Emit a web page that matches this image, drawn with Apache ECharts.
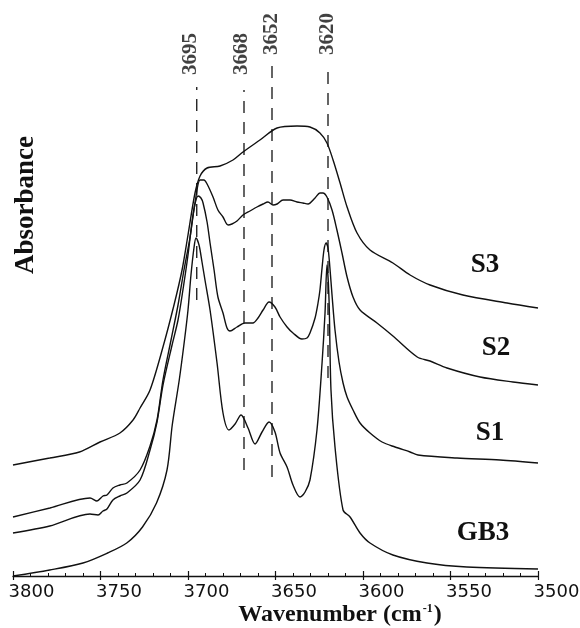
<!DOCTYPE html>
<html><head><meta charset="utf-8">
<script src="https://cdn.jsdelivr.net/npm/echarts@6/dist/echarts.min.js"></script>
<style>html,body{margin:0;padding:0;background:#fff}#c{width:580px;height:628px}</style>
</head><body><div id="c"></div>
<script>
// x axis (wavenumber, cm-1)
const xTicks = [3800, 3750, 3700, 3650, 3600, 3550, 3500];

// S3
const s3Wn = [3800,3779,3762,3750.3,3738.9,3731.4,3727.4,3721.7,3714.3,3708,3703.4,3700,3696,3693.1,3689.1,3681.7,3674.3,3668.6,3658.9,3649.1,3637.7,3630.3,3624.6,3620.6,3617.1,3613.1,3609.1,3603.4,3596,3582.9,3573.1,3561.7,3542.9,3517.7,3500];
const s3Abs = [1.11,1.18,1.24,1.34,1.43,1.56,1.68,1.86,2.29,2.71,3.06,3.41,3.83,4.00,4.08,4.10,4.16,4.24,4.36,4.48,4.50,4.49,4.43,4.33,4.16,3.93,3.69,3.43,3.26,3.13,3.01,2.91,2.81,2.73,2.68];

// S2
const s2Wn = [3800,3778.9,3756,3752,3748.6,3746.3,3742.9,3738.9,3734.9,3727.4,3721.7,3717.7,3714.3,3709.7,3705.7,3702.3,3698.9,3696,3693.1,3690.9,3689.1,3685.7,3682.9,3680,3677.1,3674.9,3672,3668.6,3664.6,3660.6,3657.1,3654.3,3651.4,3649.1,3645.7,3641.7,3637.7,3634.3,3631.4,3627.4,3624.6,3622.9,3620.6,3617.7,3614.9,3612,3609.1,3605.7,3601.7,3592,3582.9,3569,3561.7,3552,3533.1,3514.3,3500];
const s2Abs = [0.59,0.68,0.78,0.75,0.80,0.81,0.88,0.91,0.93,1.06,1.30,1.56,1.96,2.36,2.71,3.06,3.38,3.73,3.96,3.96,3.92,3.79,3.66,3.59,3.51,3.52,3.55,3.61,3.65,3.69,3.72,3.74,3.71,3.72,3.76,3.76,3.74,3.73,3.72,3.78,3.83,3.83,3.79,3.66,3.46,3.23,2.99,2.79,2.66,2.53,2.40,2.19,2.15,2.08,1.99,1.94,1.91];

// S1
const s1Wn = [3800,3779,3756,3751.4,3748.6,3746.3,3742.9,3738.9,3734.9,3727.4,3721.7,3717.7,3714.3,3709.1,3705.7,3702.9,3700,3697.7,3696,3694.3,3692.6,3691.4,3689.1,3687.4,3685.1,3682.9,3680,3677.7,3676,3672,3667.4,3662.9,3660,3657.1,3653.7,3650.3,3647.4,3643.4,3640,3634.9,3632,3630.3,3627.4,3625.7,3624.6,3623.4,3622.3,3621.1,3620,3618.9,3617.7,3616,3613.7,3611.4,3609.1,3605.7,3601.7,3596,3589.1,3581.7,3573.1,3568.6,3546.3,3521.7,3500];
const s1Abs = [0.43,0.50,0.62,0.61,0.65,0.67,0.76,0.80,0.83,0.96,1.26,1.54,1.91,2.31,2.56,2.86,3.21,3.54,3.72,3.80,3.78,3.73,3.54,3.33,3.06,2.79,2.63,2.48,2.45,2.49,2.53,2.53,2.58,2.66,2.74,2.69,2.59,2.49,2.43,2.37,2.38,2.43,2.58,2.73,2.86,3.08,3.26,3.33,3.28,3.08,2.81,2.46,2.14,1.93,1.79,1.66,1.53,1.43,1.34,1.29,1.24,1.21,1.18,1.16,1.13];

// GB3
const gb3Wn = [3800,3779,3760,3746,3735,3726,3718,3712,3709,3705,3702,3700,3698.3,3696.6,3695.4,3693.7,3692,3690.3,3687.4,3683.4,3680,3676.6,3673.1,3669.7,3665.7,3661.7,3657.7,3653.7,3650.3,3647.4,3643.4,3640,3636,3633.1,3630.3,3626.3,3623.4,3621.7,3620.6,3619.4,3618.3,3616,3611.4,3607.4,3601.7,3596,3582.9,3563.4,3540.6,3500];
const gb3Abs = [0.00,0.06,0.13,0.23,0.33,0.49,0.73,1.06,1.51,1.96,2.36,2.66,3.01,3.28,3.38,3.31,3.14,2.96,2.66,2.13,1.63,1.46,1.52,1.61,1.48,1.32,1.44,1.54,1.44,1.23,1.09,0.91,0.79,0.84,0.96,1.46,2.13,2.63,3.11,2.76,1.86,1.29,0.66,0.59,0.43,0.33,0.21,0.13,0.09,0.07];

// marked bands
const bandWn = [3695, 3668, 3652, 3620];
const bandLabels = ['3695', '3668', '3652', '3620'];
const bandTop = [4.89, 4.86, 5.11, 5.09];
const bandBottom = [2.76, 1.06, 0.99, 1.98];
const bandLabelBase = [5.01, 5.01, 5.21, 5.21];

const seriesNames = ['S3', 'S2', 'S1', 'GB3'];

const pairs = (a, b) => a.map((v, i) => [v, b[i]]);
const curves = [[s3Wn, s3Abs], [s2Wn, s2Abs], [s1Wn, s1Abs], [gb3Wn, gb3Abs]];
const labelShift = [-6, -2, 0, 0];

const series = [];
curves.forEach((c, i) => {
  series.push({
    name: seriesNames[i], type: 'line', data: pairs(c[0], c[1]),
    showSymbol: false, smooth: 0.3, silent: true,
    lineStyle: { color: '#111', width: 1.4 }
  });
});
bandWn.forEach((w, i) => {
  series.push({
    type: 'line', data: [[w, bandBottom[i]], [w, bandTop[i]]],
    showSymbol: false, silent: true,
    lineStyle: { color: '#111', width: 1.3, type: [12, 9] }
  });
  series.push({
    type: 'scatter', data: [[w, bandLabelBase[i]]], symbolSize: 0, silent: true,
    label: {
      show: true, formatter: bandLabels[i], rotate: 90, position: 'inside',
      align: 'left', verticalAlign: 'middle', offset: [0, labelShift[i]],
      fontFamily: 'Liberation Serif', fontWeight: 'bold', fontSize: 21, color: '#111'
    }
  });
});

const chart = echarts.init(document.getElementById('c'), null, { renderer: 'canvas' });
chart.setOption({
  backgroundColor: '#fff',
  animation: false,
  grid: { left: 13, right: 42, top: 0, bottom: 52, containLabel: false, outerBoundsMode: 'none' },
  xAxis: [{
    type: 'value', min: 3500, max: 3800, interval: 50, inverse: true,
    axisLine: { show: true, lineStyle: { color: '#111', width: 1.3 } },
    axisTick: { show: true, inside: true, length: 5, lineStyle: { color: '#111', width: 1.2 } },
    minorTick: { show: true, splitNumber: 5, length: 3, lineStyle: { color: '#111', width: 1 } },
    splitLine: { show: false },
    axisLabel: {
      margin: 7, fontFamily: 'DejaVu Sans', fontSize: 18, color: '#111',
      padding: [0, 0, 0, 37],
      formatter: v => xTicks.includes(v) ? String(v) : ''
    }
  }, {
    type: 'value', min: 3500, max: 3800, interval: 50, inverse: true, position: 'bottom',
    axisLine: { show: false },
    axisTick: { show: true, inside: false, length: 4, lineStyle: { color: '#111', width: 1.2 } },
    axisLabel: { show: false }, splitLine: { show: false }
  }],
  yAxis: { type: 'value', min: 0, max: 5.76, show: false, splitLine: { show: false } },
  graphic: [
    { type: 'text', x: 26, y: 205, rotation: Math.PI / 2,
      style: { text: 'Absorbance', font: 'bold 27px "Liberation Serif"', fill: '#111', align: 'center', verticalAlign: 'middle' } },
    { type: 'text', x: 340, y: 615,
      style: { text: '{a|Wavenumber (cm}{s|-1}{a|)}', align: 'center', verticalAlign: 'middle', fill: '#111',
        rich: { a: { font: 'bold 24px "Liberation Serif"', fill: '#111' },
                s: { font: 'bold 12px "Liberation Serif"', fill: '#111', verticalAlign: 'top', padding: [0, 1, 12, 1] } } } },
    { type: 'text', x: 485, y: 265, style: { text: 'S3', font: 'bold 27px "Liberation Serif"', fill: '#111', align: 'center', verticalAlign: 'middle' } },
    { type: 'text', x: 496, y: 348, style: { text: 'S2', font: 'bold 27px "Liberation Serif"', fill: '#111', align: 'center', verticalAlign: 'middle' } },
    { type: 'text', x: 490, y: 433, style: { text: 'S1', font: 'bold 27px "Liberation Serif"', fill: '#111', align: 'center', verticalAlign: 'middle' } },
    { type: 'text', x: 483, y: 533, style: { text: 'GB3', font: 'bold 27px "Liberation Serif"', fill: '#111', align: 'center', verticalAlign: 'middle' } }
  ],
  series: series
});
</script>
</body></html>
